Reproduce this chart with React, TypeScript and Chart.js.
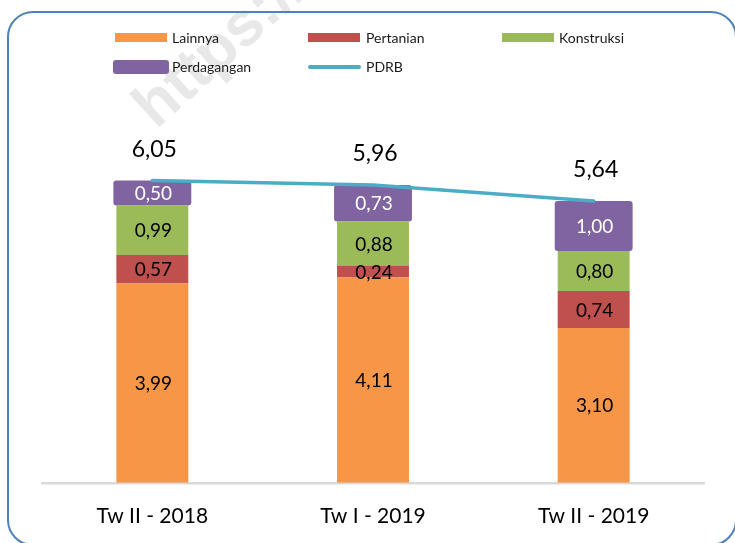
import React, { useEffect, useRef } from "react";
import { Chart, registerables } from "chart.js";

Chart.register(...registerables);

const categories = ["Tw II - 2018", "Tw I - 2019", "Tw II - 2019"];
const lainnya = [3.99, 4.11, 3.1];
const pertanian = [0.57, 0.24, 0.74];
const konstruksi = [0.99, 0.88, 0.8];
const perdagangan = [0.5, 0.73, 1.0];
const pdrb = [6.05, 5.96, 5.64];
const yMin = 0;
const yMax = 7;

const seriesNames = ["Lainnya", "Pertanian", "Konstruksi", "Perdagangan", "PDRB"];
const colors = {
  lainnya: "#F79646",
  pertanian: "#C0504D",
  konstruksi: "#9BBB59",
  perdagangan: "#8064A2",
  pdrb: "#4BACC6",
};

const fmt = (v: number) => v.toFixed(2).replace(".", ",");

const watermarkPlugin = {
  id: "watermark",
  beforeDraw(chart: any) {
    const ctx = chart.ctx;
    ctx.save();
    ctx.translate(156, 130);
    ctx.rotate((-42 * Math.PI) / 180);
    ctx.font = "bold 62px 'Liberation Sans', Arial, sans-serif";
    ctx.fillStyle = "#e8e8e8";
    ctx.textBaseline = "alphabetic";
    ctx.textAlign = "left";
    ctx.fillText("https://", 0, 0);
    ctx.restore();
  },
};

const labelPlugin = {
  id: "valueLabels",
  afterDatasetsDraw(chart: any) {
    const ctx = chart.ctx;
    ctx.save();
    ctx.textAlign = "center";
    ctx.textBaseline = "middle";
    chart.data.datasets.forEach((ds: any, i: number) => {
      const meta = chart.getDatasetMeta(i);
      meta.data.forEach((el: any, j: number) => {
        const v = ds.data[j] as number;
        if (ds.type === "line") {
          ctx.font = "23px Lato, sans-serif";
          ctx.fillStyle = "#000";
          ctx.fillText(fmt(v), el.x + 2, el.y - 31);
        } else {
          const p = el.getProps(["x", "y", "base"], true);
          ctx.font = "19px Lato, sans-serif";
          ctx.fillStyle = ds.labelColor || "#000";
          ctx.fillText(fmt(v), p.x + 1, (p.y + p.base) / 2 + 1);
        }
      });
    });
    ctx.restore();
  },
};

function ChartCanvas() {
  const ref = useRef<HTMLCanvasElement | null>(null);
  useEffect(() => {
    if (!ref.current) return;
    const chart = new Chart(ref.current, {
      type: "bar",
      data: {
        labels: categories,
        datasets: [
          {
            type: "line",
            label: seriesNames[4],
            data: pdrb,
            borderColor: colors.pdrb,
            backgroundColor: colors.pdrb,
            borderWidth: 3.5,
            pointRadius: 0,
            tension: 0,
            stack: "pdrb",
            borderCapStyle: "round",
          } as any,
          {
            type: "bar",
            label: seriesNames[0],
            data: lainnya,
            backgroundColor: colors.lainnya,
            barPercentage: 0.326,
            categoryPercentage: 1,
            stack: "s",
            labelColor: "#000",
          } as any,
          {
            type: "bar",
            label: seriesNames[1],
            data: pertanian,
            backgroundColor: colors.pertanian,
            barPercentage: 0.326,
            categoryPercentage: 1,
            stack: "s",
            labelColor: "#000",
          } as any,
          {
            type: "bar",
            label: seriesNames[2],
            data: konstruksi,
            backgroundColor: colors.konstruksi,
            barPercentage: 0.326,
            categoryPercentage: 1,
            stack: "s",
            labelColor: "#000",
          } as any,
          {
            type: "bar",
            label: seriesNames[3],
            data: perdagangan,
            backgroundColor: colors.perdagangan,
            barPercentage: 0.353,
            categoryPercentage: 1,
            borderRadius: 3,
            borderSkipped: false,
            stack: "s",
            labelColor: "#ffffff",
          } as any,
        ],
      },
      options: {
        responsive: false,
        animation: false,
        layout: { padding: { left: 42, right: 31, top: 133, bottom: -7 } },
        plugins: {
          legend: { display: false },
          tooltip: { enabled: false },
        },
        scales: {
          x: {
            stacked: true,
            grid: { display: false, drawTicks: false },
            border: { display: true, color: "#D9D9D9", width: 2.5 },
            ticks: {
              color: "#000",
              font: { family: "Lato, sans-serif", size: 21 },
              padding: 21,
              maxRotation: 0,
            },
          },
          y: {
            display: false,
            stacked: true,
            min: yMin,
            max: yMax,
          },
        },
      },
      plugins: [watermarkPlugin, labelPlugin],
    });
    return () => chart.destroy();
  }, []);
  return (
    <canvas
      ref={ref}
      width={735}
      height={543}
      style={{ position: "absolute", left: 0, top: 0 }}
    />
  );
}

const legendText: React.CSSProperties = {
  position: "absolute",
  height: 20,
  lineHeight: "20px",
  fontFamily: "Lato, sans-serif",
  fontSize: 14,
  color: "#1a1a1a",
  whiteSpace: "nowrap",
};

export default function App() {
  return (
    <div
      style={{
        position: "fixed",
        left: 0,
        top: 0,
        width: 735,
        height: 543,
        overflow: "hidden",
        background: "#fff",
      }}
    >
      <ChartCanvas />
      {/* legend row 1 */}
      <div style={{ position: "absolute", left: 115, top: 33, width: 52, height: 9, background: colors.lainnya }} />
      <div style={{ ...legendText, left: 172, top: 28 }}>{seriesNames[0]}</div>
      <div style={{ position: "absolute", left: 308, top: 33, width: 52, height: 9, background: colors.pertanian }} />
      <div style={{ ...legendText, left: 366, top: 28 }}>{seriesNames[1]}</div>
      <div style={{ position: "absolute", left: 502, top: 33, width: 52, height: 9, background: colors.konstruksi }} />
      <div style={{ ...legendText, left: 559, top: 28 }}>{seriesNames[2]}</div>
      {/* legend row 2 */}
      <div style={{ position: "absolute", left: 113, top: 60, width: 56, height: 14, borderRadius: 3, background: colors.perdagangan }} />
      <div style={{ ...legendText, left: 172, top: 57 }}>{seriesNames[3]}</div>
      <div style={{ position: "absolute", left: 308, top: 65, width: 53, height: 4, borderRadius: 2, background: colors.pdrb }} />
      <div style={{ ...legendText, left: 366, top: 57 }}>{seriesNames[4]}</div>
      {/* outer rounded border */}
      <div
        style={{
          position: "absolute",
          left: 7,
          top: 11,
          width: 730,
          height: 535,
          border: "2px solid #4F81BD",
          borderRadius: 26,
          boxSizing: "border-box",
          pointerEvents: "none",
        }}
      />
    </div>
  );
}
